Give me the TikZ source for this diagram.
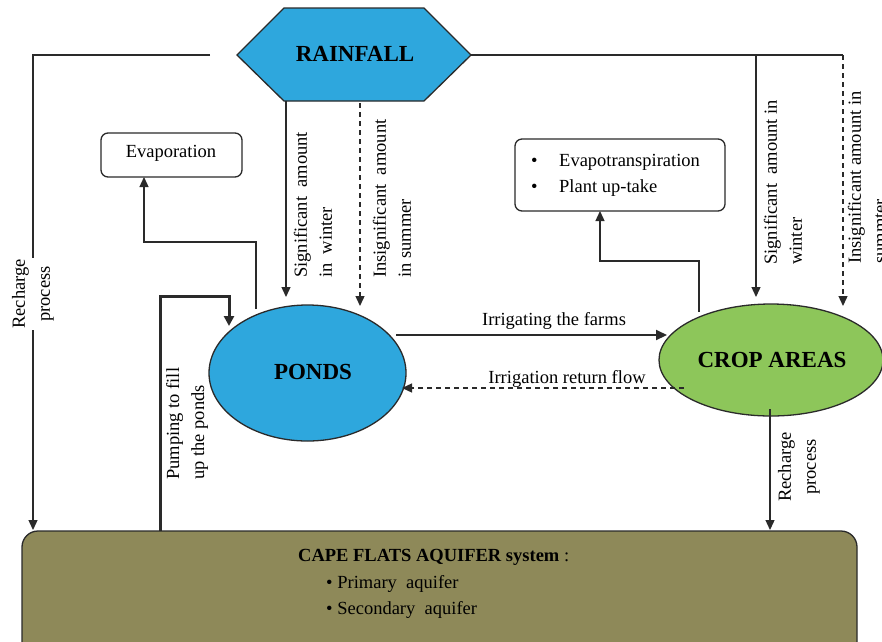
\documentclass[tikz,border=0pt]{standalone}
\usepackage{fontspec}
\setmainfont{Liberation Serif}
\usetikzlibrary{arrows.meta,shapes.geometric}
\definecolor{rainblue}{HTML}{2EA7DD}
\definecolor{cropgreen}{HTML}{8DC65A}
\definecolor{aqolive}{HTML}{8E8959}
\definecolor{linegray}{HTML}{2A2A2A}
\tikzset{
  conn/.style={draw=linegray, line width=1.3pt, -{Triangle[length=10pt,width=9pt]}},
  plain/.style={draw=linegray, line width=1.3pt},
  dsh/.style={dash pattern=on 5pt off 4pt},
  lbl/.style={font=\fontsize{18.5}{25}\selectfont, inner sep=0pt},
  vlbl/.style={lbl, rotate=90, align=left, anchor=west},
  titl/.style={font=\fontsize{23}{27}\selectfont\bfseries, inner sep=0pt},
  infobox/.style={draw=linegray, line width=1.3pt, rounded corners=7pt, fill=white},
}
\begin{document}
\begin{tikzpicture}[x=1pt,y=-1pt]
\useasboundingbox (0,0) rectangle (882,641);
% Rainfall hexagon
\filldraw[fill=rainblue, draw=linegray, line width=1.3pt]
  (237,55) -- (284,8) -- (424,8) -- (471,55) -- (424,101) -- (284,101) -- cycle;
\node[titl] (rain) at (355,54) {RAINFALL};
\coordinate (rainL) at (237,55);
\coordinate (rainR) at (471,55);
\coordinate (lstart) at (210,55);
% Ponds
\node[draw=linegray, line width=1.3pt, fill=rainblue, ellipse, minimum width=197pt, minimum height=136pt, inner sep=0pt] (ponds) at (307.5,373) {};
\node[titl] at (313,372) {PONDS};
% Crop areas
\node[draw=linegray, line width=1.3pt, fill=cropgreen, ellipse, minimum width=224pt, minimum height=112pt, inner sep=0pt] (crop) at (771,360) {};
\node[titl] at (772,360) {CROP AREAS};
% Evaporation box
\node[infobox, minimum width=141pt, minimum height=44pt] (evap) at (171.5,155) {};
\node[lbl] at (171,153) {Evaporation};
% Evapotranspiration box
\node[infobox, minimum width=210pt, minimum height=72pt] (evt) at (620,175) {};
\node[lbl, anchor=west] at (531,162) {\textbullet};
\node[lbl, anchor=west] at (559,162) {Evapotranspiration};
\node[lbl, anchor=west] at (531,188) {\textbullet};
\node[lbl, anchor=west] at (559,188) {Plant up-take};
% Aquifer box
\node[draw=linegray, line width=1.3pt, fill=aqolive, rounded corners=16pt, minimum width=835pt, minimum height=140pt, inner sep=0pt] (aq) at (439.5,601) {};
\node[lbl, anchor=west] at (298,557) {\textbf{CAPE FLATS AQUIFER system} :};
\node[lbl, anchor=west] at (326,584) {\textbullet\ Primary\ \ aquifer};
\node[lbl, anchor=west] at (326,610) {\textbullet\ Secondary\ \ aquifer};

% Left recharge line
\draw[conn] (lstart) -- (33,55) -- (33,530);
\node[lbl, rotate=90, align=center, fill=white, inner sep=1pt] at (33,294) {Recharge\\process};

% Rainfall to right
\draw[plain] (rainR) -- (843,55);
\draw[conn] (756,55) -- (756,297);
\draw[conn, dsh] (843,55) -- (843,306);
% Rainfall to ponds
\draw[conn] (286,101) -- (286,297);
\draw[conn, dsh] (360,103) -- (360,306);
\node[vlbl] at (313,278) {Significant\ \ amount\\in\ \ winter};
\node[vlbl] at (392,278) {Insignificant\ \ amount\\in summer};
\node[vlbl] at (783,265) {Significant\ \ amount in\\winter};
\node[vlbl] at (867,264) {Insignificant amount in\\summter};

% Ponds to evaporation
\draw[conn] (256,309) -- (256,242) -- (144,242) -- (144,177);
% Crop to evapotranspiration
\draw[conn] (699,312) -- (699,261) -- (600,261) -- (600,211);

% Pumping
\draw[draw=linegray, line width=3pt, -{Triangle[length=10pt,width=10pt]}] (160,531) -- (160,296) -- (229,296) -- (229,326);
\node[vlbl] at (187,480) {Pumping to fill\\up the ponds};

% Irrigating
\draw[draw=linegray, line width=2pt, -{Triangle[length=11pt,width=10pt]}] (396,335) -- (667,335);
\node[lbl] at (554,321) {Irrigating the farms};
% Return flow
\draw[conn, dsh] (684,388) -- (402,388);
\node[lbl] at (567,379) {Irrigation return flow};

% Crop recharge
\draw[conn] (770,409) -- (770,530);
\node[lbl, rotate=90, align=center] at (799,467) {Recharge\\process};
\end{tikzpicture}
\end{document}
